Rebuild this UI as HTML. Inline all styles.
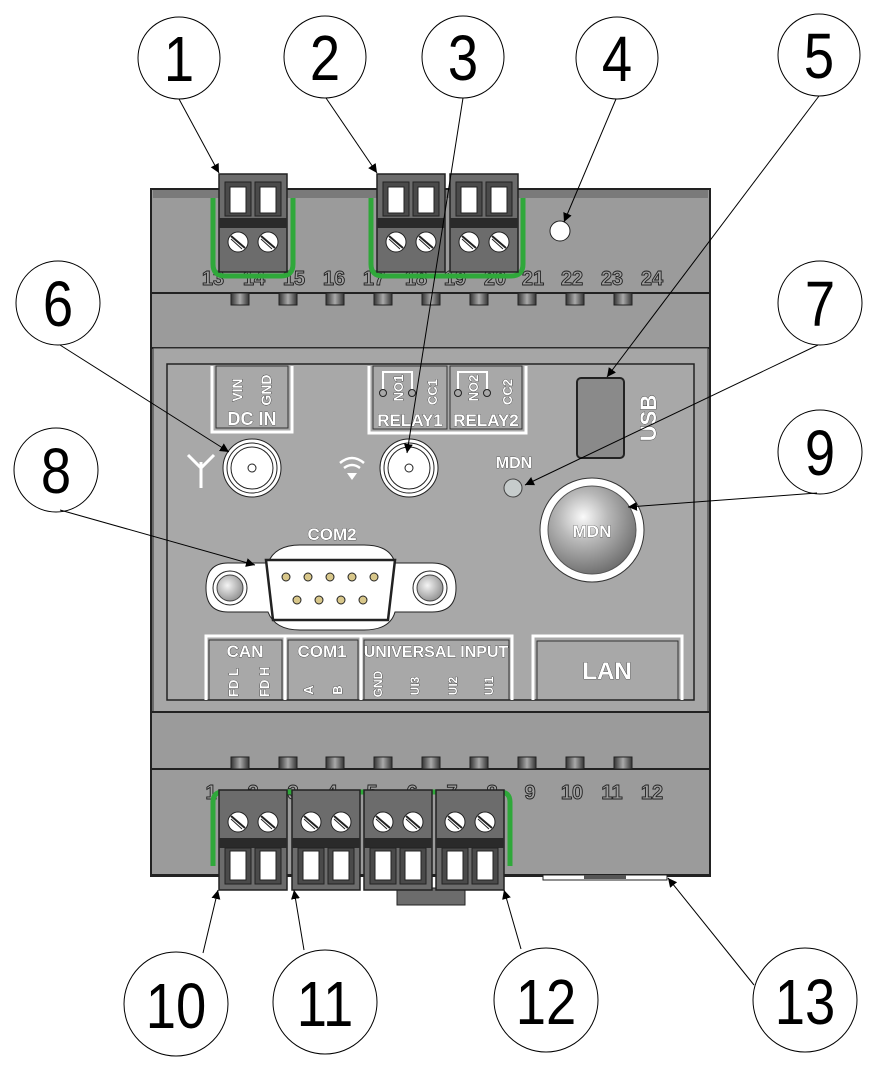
<!DOCTYPE html>
<html><head><meta charset="utf-8"><style>
html,body{margin:0;padding:0;background:#fff}
svg{display:block}
.n{font-family:"Liberation Sans",sans-serif;font-size:64px;fill:#000;text-anchor:middle}
.t{font-family:"Liberation Sans",sans-serif;font-weight:bold;font-size:20px;fill:#a0a0a0;stroke:#222;stroke-width:0.9;text-anchor:middle}
.w{font-family:"Liberation Sans",sans-serif;font-weight:bold;fill:#fff;stroke:#222;stroke-width:0.6;text-anchor:middle;paint-order:stroke}
</style></head><body>
<svg width="874" height="1067" viewBox="0 0 874 1067" xmlns="http://www.w3.org/2000/svg">
<defs>
<radialGradient id="btn" cx="0.4" cy="0.35" r="0.7"><stop offset="0" stop-color="#fafafa"/><stop offset="0.4" stop-color="#b8b8b8"/><stop offset="1" stop-color="#6a6a6a"/></radialGradient>
<radialGradient id="scr" cx="0.4" cy="0.4" r="0.7"><stop offset="0" stop-color="#f4f4f4"/><stop offset="1" stop-color="#888"/></radialGradient>
<linearGradient id="lug" x1="0" x2="1"><stop offset="0" stop-color="#333"/><stop offset="0.5" stop-color="#aaa"/><stop offset="1" stop-color="#333"/></linearGradient>
<marker id="ar" viewBox="0 0 10 10" refX="10" refY="5" markerWidth="9" markerHeight="12" orient="auto" markerUnits="userSpaceOnUse"><path d="M0,0 L10,5 L0,10 z" fill="#000"/></marker>
<g id="tb">
 <rect x="0" y="0" width="68" height="98" fill="#6c6c6c" stroke="#222" stroke-width="1.5"/>
 <rect x="6" y="8" width="26" height="34" fill="#4a4a4a" stroke="#222"/>
 <rect x="36" y="8" width="26" height="34" fill="#4a4a4a" stroke="#222"/>
 <rect x="11" y="13" width="16" height="26" fill="#fff" stroke="#222"/>
 <rect x="41" y="13" width="16" height="26" fill="#fff" stroke="#222"/>
 <rect x="0" y="44" width="68" height="10" fill="#2a2a2a"/>
 <circle cx="19" cy="68" r="10" fill="#fff" stroke="#222"/><line x1="12" y1="62" x2="26" y2="74" stroke="#222" stroke-width="2"/><line x1="12" y1="65" x2="23" y2="75" stroke="#222"/>
 <circle cx="49" cy="68" r="10" fill="#fff" stroke="#222"/><line x1="42" y1="62" x2="56" y2="74" stroke="#222" stroke-width="2"/><line x1="42" y1="65" x2="53" y2="75" stroke="#222"/>
</g>
<g id="bb">
 <rect x="0" y="0" width="68" height="100" fill="#6c6c6c" stroke="#222" stroke-width="1.5"/>
 <circle cx="19" cy="32" r="10" fill="#fff" stroke="#222"/><line x1="12" y1="26" x2="26" y2="38" stroke="#222" stroke-width="2"/><line x1="12" y1="29" x2="23" y2="39" stroke="#222"/>
 <circle cx="49" cy="32" r="10" fill="#fff" stroke="#222"/><line x1="42" y1="26" x2="56" y2="38" stroke="#222" stroke-width="2"/><line x1="42" y1="29" x2="53" y2="39" stroke="#222"/>
 <rect x="0" y="48" width="68" height="10" fill="#2a2a2a"/>
 <rect x="6" y="58" width="26" height="36" fill="#4a4a4a" stroke="#222"/>
 <rect x="36" y="58" width="26" height="36" fill="#4a4a4a" stroke="#222"/>
 <rect x="11" y="61" width="16" height="29" fill="#fff" stroke="#222"/>
 <rect x="41" y="61" width="16" height="29" fill="#fff" stroke="#222"/>
</g>
</defs>

<rect x="151" y="189" width="559" height="687" fill="#9b9b9b" stroke="#222" stroke-width="2"/>
<rect x="153" y="190" width="555" height="8" fill="#7a7a7a"/>
<line x1="151" y1="293" x2="710" y2="293" stroke="#222" stroke-width="2"/>
<line x1="151" y1="348" x2="710" y2="348" stroke="#222" stroke-width="2"/>
<rect x="153" y="348" width="555" height="364" fill="#a6a6a6" stroke="#333"/>
<rect x="167" y="364" width="527" height="336" fill="#a8a8a8" stroke="#222" stroke-width="1.5"/>
<line x1="151" y1="712" x2="710" y2="712" stroke="#222" stroke-width="2"/>
<line x1="151" y1="769" x2="710" y2="769" stroke="#222" stroke-width="2"/>
<rect x="151" y="874" width="559" height="2" fill="#222"/>

<g fill="url(#lug)" stroke="#222">
<rect x="231" y="293" width="18" height="12"/><rect x="279" y="293" width="18" height="12"/><rect x="326" y="293" width="18" height="12"/><rect x="374" y="293" width="18" height="12"/><rect x="422" y="293" width="18" height="12"/><rect x="470" y="293" width="18" height="12"/><rect x="518" y="293" width="18" height="12"/><rect x="566" y="293" width="18" height="12"/><rect x="614" y="293" width="18" height="12"/>
<rect x="231" y="757" width="18" height="12"/><rect x="279" y="757" width="18" height="12"/><rect x="326" y="757" width="18" height="12"/><rect x="374" y="757" width="18" height="12"/><rect x="422" y="757" width="18" height="12"/><rect x="470" y="757" width="18" height="12"/><rect x="518" y="757" width="18" height="12"/><rect x="566" y="757" width="18" height="12"/><rect x="614" y="757" width="18" height="12"/>
</g>

<g class="t">
<text x="213" y="285">13</text><text x="254" y="285">14</text><text x="294" y="285">15</text><text x="334" y="285">16</text><text x="374" y="285">17</text><text x="416" y="285">18</text><text x="455" y="285">19</text><text x="495" y="285">20</text><text x="533" y="285">21</text><text x="572" y="285">22</text><text x="612" y="285">23</text><text x="652" y="285">24</text>
</g>
<path d="M213,198 V264 Q213,276 225,276 H281 Q293,276 293,264 V198" fill="none" stroke="#2fa83a" stroke-width="5"/>
<path d="M371,198 V264 Q371,276 383,276 H511 Q523,276 523,264 V198" fill="none" stroke="#2fa83a" stroke-width="5"/>
<use href="#tb" x="219" y="174"/>
<use href="#tb" x="377" y="174"/>
<use href="#tb" x="450" y="174"/>
<circle cx="560" cy="231" r="10" fill="#fff" stroke="#222"/>

<path d="M212,366 V432 H292 V366" fill="none" stroke="#fff" stroke-width="3"/>
<rect x="216" y="366" width="72" height="62" fill="#a8a8a8" stroke="#333"/>
<text class="w" font-size="14" transform="translate(242,390) rotate(-90)">VIN</text>
<text class="w" font-size="14" transform="translate(271,390) rotate(-90)">GND</text>
<text class="w" font-size="18" x="252" y="425">DC IN</text>
<path d="M369,366 V433 H526 V366" fill="none" stroke="#fff" stroke-width="3"/>
<rect x="373" y="366" width="74" height="63" fill="#a8a8a8" stroke="#333"/>
<rect x="450" y="366" width="72" height="63" fill="#a8a8a8" stroke="#333"/>
<g fill="none" stroke="#fff" stroke-width="2"><path d="M383,390 V372 H398 M398,372 L412,372 V390"/><path d="M458,390 V372 H473 M473,372 L487,372 V390"/></g>
<g fill="#a8a8a8" stroke="#222"><circle cx="383" cy="393" r="3.5"/><circle cx="412" cy="393" r="3.5"/><circle cx="458" cy="393" r="3.5"/><circle cx="487" cy="393" r="3.5"/></g>
<text class="w" font-size="13" transform="translate(403,388) rotate(-90)">NO1</text>
<text class="w" font-size="13" transform="translate(437,392) rotate(-90)">CC1</text>
<text class="w" font-size="13" transform="translate(478,388) rotate(-90)">NO2</text>
<text class="w" font-size="13" transform="translate(512,392) rotate(-90)">CC2</text>
<text class="w" font-size="17" x="410" y="426">RELAY1</text>
<text class="w" font-size="17" x="486" y="426">RELAY2</text>

<g stroke="#222">
<circle cx="252" cy="468" r="29" fill="#fff"/><circle cx="252" cy="468" r="25" fill="#fff"/><circle cx="252" cy="468" r="21" fill="#fff"/><circle cx="252" cy="468" r="4" fill="#fff"/>
<circle cx="409" cy="468" r="29" fill="#fff"/><circle cx="409" cy="468" r="25" fill="#fff"/><circle cx="409" cy="468" r="21" fill="#fff"/><circle cx="409" cy="468" r="4" fill="#fff"/>
</g>
<g stroke="#fff" stroke-width="3" fill="none"><path d="M201,462 V488 M188,455 L201,468 L214,455"/></g>
<g fill="none" stroke="#fff" stroke-width="2.5"><path d="M340,463 Q352,453 364,463"/><path d="M344,468 Q352,462 360,468"/></g>
<path d="M347,473 L357,473 L352,480 z" fill="#fff"/>

<text class="w" font-size="16" x="514" y="468">MDN</text>
<circle cx="513" cy="488" r="9" fill="#c6cccc" stroke="#444"/>
<rect x="577" y="378" width="47" height="80" rx="4" fill="#8a8a8a" stroke="#222" stroke-width="2"/>
<text class="w" font-size="22" transform="translate(656,418) rotate(-90)">USB</text>
<circle cx="592" cy="530" r="52" fill="#fff" stroke="#333"/>
<circle cx="592" cy="530" r="44" fill="url(#btn)" stroke="#555"/>
<text class="w" font-size="17" x="592" y="537">MDN</text>

<text class="w" font-size="17" x="332" y="540">COM2</text>
<path d="M228,563 H268 Q275,545 300,545 H364 Q390,545 395,563 H432 Q456,563 456,588 Q456,612 432,612 H395 Q390,630 364,630 H300 Q275,630 268,612 H228 Q206,612 206,588 Q206,563 228,563 z" fill="#fff" stroke="#222"/>
<path d="M266,560 H395 L388,620 H273 z" fill="#fff" stroke="#222" stroke-width="2.5"/>
<circle cx="230" cy="588" r="17" fill="#fff" stroke="#222"/><circle cx="230" cy="588" r="13" fill="url(#scr)" stroke="#444"/>
<circle cx="430" cy="588" r="17" fill="#fff" stroke="#222"/><circle cx="430" cy="588" r="13" fill="url(#scr)" stroke="#444"/>
<g fill="#d8c78a" stroke="#222"><circle cx="286" cy="577" r="4"/><circle cx="308" cy="577" r="4"/><circle cx="330" cy="577" r="4"/><circle cx="352" cy="577" r="4"/><circle cx="374" cy="577" r="4"/><circle cx="297" cy="600" r="4"/><circle cx="319" cy="600" r="4"/><circle cx="341" cy="600" r="4"/><circle cx="363" cy="600" r="4"/></g>

<g fill="none" stroke="#fff" stroke-width="3"><path d="M206,700 V636 H512 V700"/><path d="M285,636 V700 M361,636 V700"/><path d="M533,700 V636 H682 V700"/></g>
<g fill="none" stroke="#333"><path d="M209,700 V640 H282 V700"/><path d="M288,700 V640 H358 V700"/><path d="M364,700 V640 H509 V700"/><path d="M537,700 V641 H678 V700"/></g>
<text class="w" font-size="17" x="245" y="657">CAN</text>
<text class="w" font-size="17" x="322" y="657">COM1</text>
<text class="w" font-size="16" x="436" y="657">UNIVERSAL INPUT</text>
<text class="w" font-size="13" transform="translate(238,697) rotate(-90)" style="text-anchor:start">FD L</text>
<text class="w" font-size="13" transform="translate(269,697) rotate(-90)" style="text-anchor:start">FD H</text>
<text class="w" font-size="13" transform="translate(313,690) rotate(-90)">A</text>
<text class="w" font-size="13" transform="translate(342,690) rotate(-90)">B</text>
<text class="w" font-size="12" transform="translate(382,684) rotate(-90)">GND</text>
<text class="w" font-size="12" transform="translate(419,686) rotate(-90)">UI3</text>
<text class="w" font-size="12" transform="translate(457,686) rotate(-90)">UI2</text>
<text class="w" font-size="12" transform="translate(493,686) rotate(-90)">UI1</text>
<text class="w" font-size="24" x="607" y="679">LAN</text>

<g class="t">
<text x="211" y="799">1</text><text x="253" y="799">2</text><text x="293" y="799">3</text><text x="332" y="799">4</text><text x="372" y="799">5</text><text x="412" y="799">6</text><text x="452" y="799">7</text><text x="492" y="799">8</text><text x="530" y="799">9</text><text x="572" y="799">10</text><text x="612" y="799">11</text><text x="652" y="799">12</text>
</g>
<path d="M213,866 V802 Q213,792 223,792 H500 Q510,792 510,802 V866" fill="none" stroke="#2fa83a" stroke-width="5"/>
<rect x="397" y="888" width="68" height="17" fill="#6c6c6c" stroke="#222"/>
<use href="#bb" x="219" y="790"/>
<use href="#bb" x="292" y="790"/>
<use href="#bb" x="364" y="790"/>
<use href="#bb" x="436" y="790"/>
<rect x="543" y="875" width="124" height="5" fill="#fff" stroke="#222"/>
<rect x="584" y="875" width="42" height="4" fill="#555"/>

<g fill="#fff" stroke="#000" stroke-width="1">
<circle cx="179" cy="58" r="41"/><circle cx="325" cy="57" r="41"/><circle cx="463" cy="57" r="41"/><circle cx="617" cy="58" r="41"/><circle cx="819" cy="55" r="41"/>
<circle cx="58" cy="303" r="42"/><circle cx="820" cy="303" r="42"/><circle cx="56" cy="470" r="42"/><circle cx="820" cy="452" r="42"/>
<circle cx="176" cy="1004" r="52"/><circle cx="325" cy="1002" r="52"/><circle cx="546" cy="1000" r="52"/><circle cx="805" cy="1000" r="52"/>
</g>
<g class="n">
<text transform="translate(179,81) scale(0.85,1)">1</text><text transform="translate(325,80) scale(0.85,1)">2</text><text transform="translate(463,80) scale(0.85,1)">3</text><text transform="translate(617,81) scale(0.85,1)">4</text><text transform="translate(819,78) scale(0.85,1)">5</text>
<text transform="translate(58,326) scale(0.85,1)">6</text><text transform="translate(820,326) scale(0.85,1)">7</text><text transform="translate(56,493) scale(0.85,1)">8</text><text transform="translate(820,475) scale(0.85,1)">9</text>
<text transform="translate(176,1028) scale(0.85,1)">10</text><text transform="translate(325,1026) scale(0.85,1)">11</text><text transform="translate(546,1024) scale(0.85,1)">12</text><text transform="translate(805,1024) scale(0.85,1)">13</text>
</g>
<g stroke="#000" stroke-width="1" fill="none" marker-end="url(#ar)">
<line x1="179" y1="99" x2="219" y2="173"/>
<line x1="326" y1="98" x2="377" y2="173"/>
<line x1="463" y1="98" x2="407" y2="453"/>
<line x1="616" y1="99" x2="564" y2="222"/>
<line x1="819" y1="96" x2="607" y2="377"/>
<line x1="60" y1="345" x2="229" y2="452"/>
<line x1="818" y1="345" x2="525" y2="485"/>
<line x1="60" y1="510" x2="255" y2="565"/>
<line x1="817" y1="493" x2="628" y2="507"/>
<line x1="203" y1="953" x2="218" y2="890"/>
<line x1="304" y1="950" x2="294" y2="890"/>
<line x1="521" y1="949" x2="504" y2="890"/>
<line x1="754" y1="985" x2="668" y2="878"/>
</g>
</svg>
</body></html>
